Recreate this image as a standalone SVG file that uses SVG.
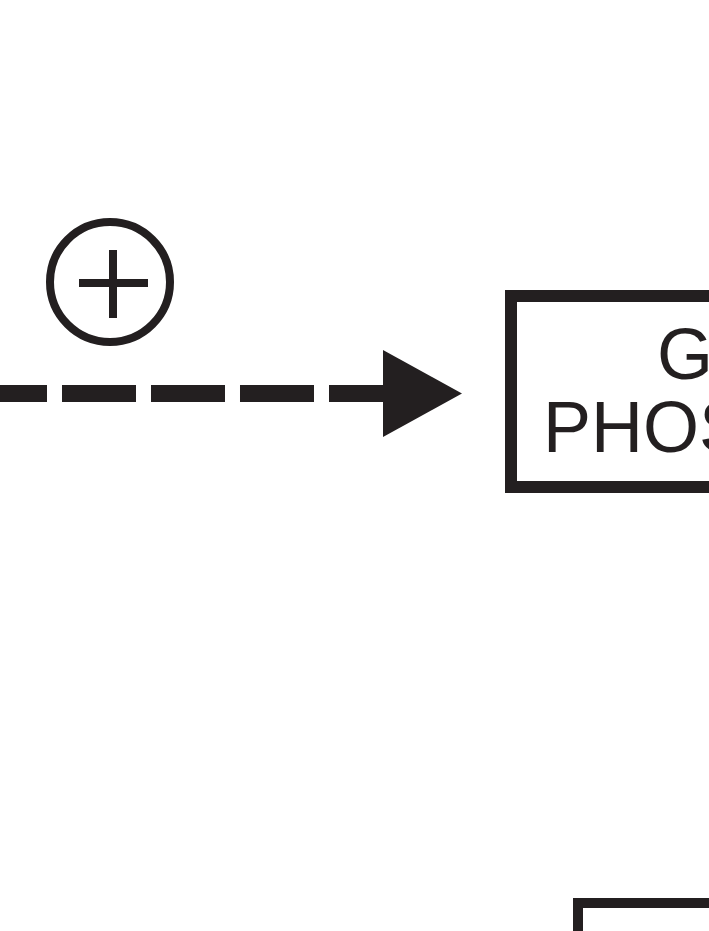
<svg xmlns="http://www.w3.org/2000/svg" width="709" height="931" viewBox="0 0 709 931">
<style>
.ln{stroke:#231f20;fill:none}
.lbl{font-family:"Liberation Sans",Arial,sans-serif;font-size:72px;fill:#231f20}
</style>
<rect width="709" height="931" fill="#ffffff"/>
<g id="connectors">
<line class="ln" x1="-27" y1="393.5" x2="390" y2="393.5" stroke-width="17" stroke-dasharray="74 15"/>
<polygon points="383,350 462,393.5 383,437" fill="#231f20"/>
</g>
<g id="plus-sign">
<circle class="ln" cx="110" cy="282" r="60" stroke-width="8"/>
<line class="ln" x1="79" y1="283" x2="148" y2="283" stroke-width="8"/>
<line class="ln" x1="113" y1="250" x2="113" y2="318" stroke-width="8"/>
</g>
<g id="node-phosphorylase">
<rect class="ln" x="511" y="296" width="400" height="191" stroke-width="12"/>
<text class="lbl" x="657" y="379">G</text>
<text class="lbl" x="543" y="452">PHOS</text>
</g>
<g id="node-bottom">
<rect class="ln" x="578" y="903" width="300" height="200" stroke-width="10"/>
</g>
</svg>
